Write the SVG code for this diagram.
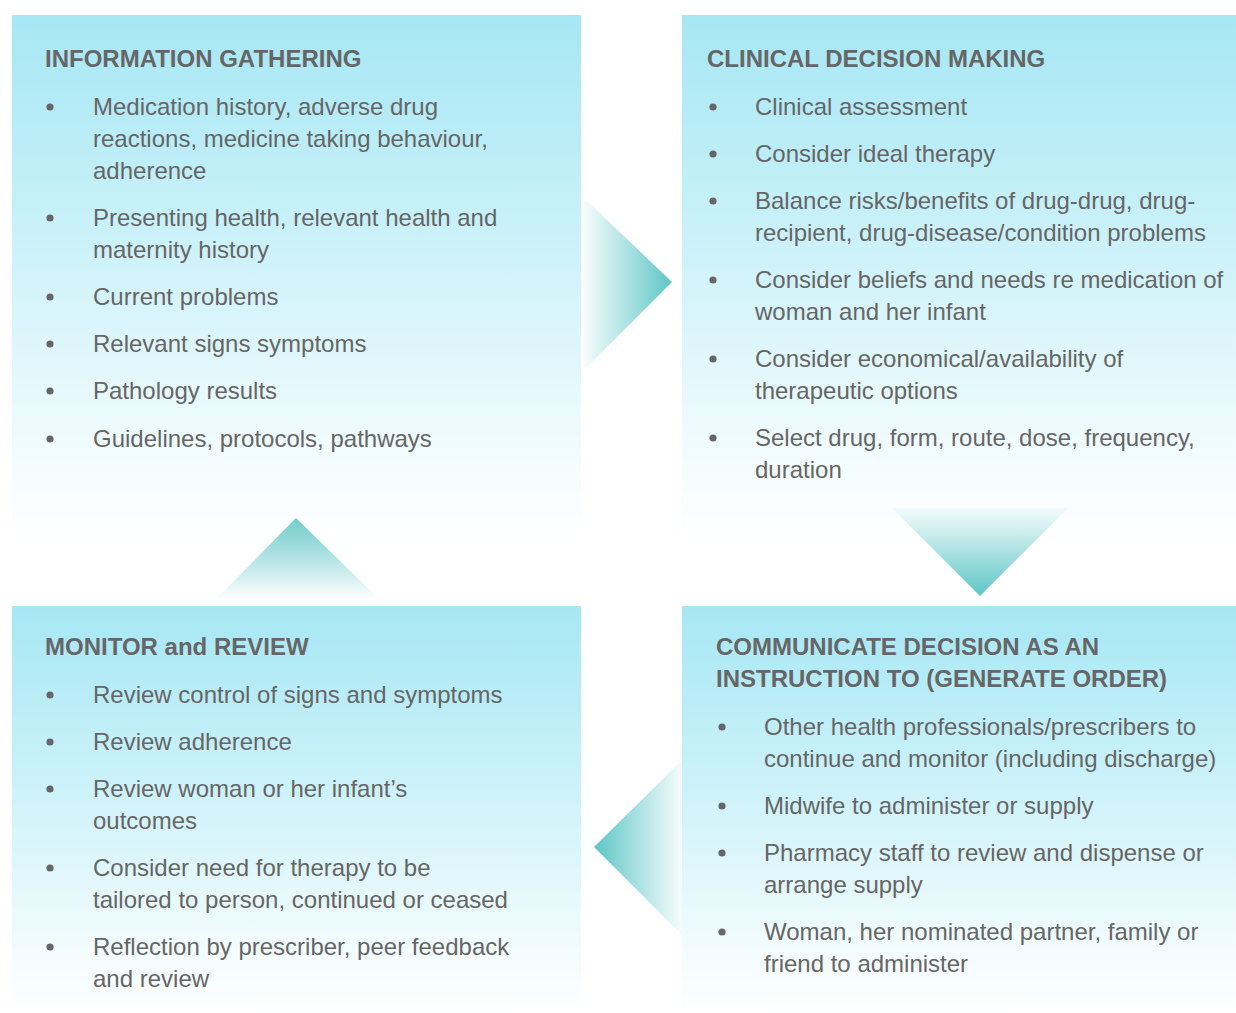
<svg xmlns="http://www.w3.org/2000/svg" width="1236" height="1013" viewBox="0 0 1236 1013">
<defs>
<linearGradient id="panel" x1="0" y1="0" x2="0" y2="1">
<stop offset="0" stop-color="#a6e7f4"/>
<stop offset="0.45" stop-color="#cdf2f9"/>
<stop offset="0.85" stop-color="#f3fcfe"/>
<stop offset="1" stop-color="#ffffff"/>
</linearGradient>
<linearGradient id="gRight" x1="0" y1="0" x2="1" y2="0">
<stop offset="0" stop-color="#5ec6c7" stop-opacity="0.05"/>
<stop offset="1" stop-color="#5ec6c7"/>
</linearGradient>
<linearGradient id="gLeft" x1="1" y1="0" x2="0" y2="0">
<stop offset="0" stop-color="#5ec6c7" stop-opacity="0.05"/>
<stop offset="1" stop-color="#5ec6c7"/>
</linearGradient>
<linearGradient id="gDown" x1="0" y1="0" x2="0" y2="1">
<stop offset="0" stop-color="#5ec6c7" stop-opacity="0.05"/>
<stop offset="1" stop-color="#5ec6c7"/>
</linearGradient>
<linearGradient id="gUp" x1="0" y1="1" x2="0" y2="0">
<stop offset="0" stop-color="#5ec6c7" stop-opacity="0.02"/>
<stop offset="1" stop-color="#74cccc"/>
</linearGradient>
</defs>
<style>
text{font-family:"Liberation Sans",Arial,Helvetica,sans-serif;fill:#666666;font-size:24px}
.h{font-weight:bold;font-size:24px}
.b{fill:#666666}
</style>
<rect width="1236" height="1013" fill="#ffffff"/>

<g id="info-gathering">
<rect x="12" y="15" width="569" height="525" fill="url(#panel)"/>
<text class="h" x="45" y="67">INFORMATION GATHERING</text>
<circle class="b" cx="50" cy="107" r="3.6"/>
<text x="93" y="115">Medication history, adverse drug</text>
<text x="93" y="147">reactions, medicine taking behaviour,</text>
<text x="93" y="179">adherence</text>
<circle class="b" cx="50" cy="218" r="3.6"/>
<text x="93" y="226">Presenting health, relevant health and</text>
<text x="93" y="258">maternity history</text>
<circle class="b" cx="50" cy="297" r="3.6"/>
<text x="93" y="305">Current problems</text>
<circle class="b" cx="50" cy="344" r="3.6"/>
<text x="93" y="352">Relevant signs symptoms</text>
<circle class="b" cx="50" cy="391" r="3.6"/>
<text x="93" y="399">Pathology results</text>
<circle class="b" cx="50" cy="439" r="3.6"/>
<text x="93" y="447">Guidelines, protocols, pathways</text>
</g>

<g id="clinical-decision">
<rect x="682" y="15" width="554" height="525" fill="url(#panel)"/>
<text class="h" x="707" y="67">CLINICAL DECISION MAKING</text>
<circle class="b" cx="713" cy="107" r="3.6"/>
<text x="755" y="115">Clinical assessment</text>
<circle class="b" cx="713" cy="154" r="3.6"/>
<text x="755" y="162">Consider ideal therapy</text>
<circle class="b" cx="713" cy="201" r="3.6"/>
<text x="755" y="209">Balance risks/benefits of drug-drug, drug-</text>
<text x="755" y="241">recipient, drug-disease/condition problems</text>
<circle class="b" cx="713" cy="280" r="3.6"/>
<text x="755" y="288">Consider beliefs and needs re medication of</text>
<text x="755" y="320">woman and her infant</text>
<circle class="b" cx="713" cy="359" r="3.6"/>
<text x="755" y="367">Consider economical/availability of</text>
<text x="755" y="399">therapeutic options</text>
<circle class="b" cx="713" cy="438" r="3.6"/>
<text x="755" y="446">Select drug, form, route, dose, frequency,</text>
<text x="755" y="478">duration</text>
</g>

<g id="monitor-review">
<rect x="12" y="606" width="569" height="407" fill="url(#panel)"/>
<text class="h" x="45" y="655">MONITOR and REVIEW</text>
<circle class="b" cx="50" cy="695" r="3.6"/>
<text x="93" y="703">Review control of signs and symptoms</text>
<circle class="b" cx="50" cy="742" r="3.6"/>
<text x="93" y="750">Review adherence</text>
<circle class="b" cx="50" cy="789" r="3.6"/>
<text x="93" y="797">Review woman or her infant’s</text>
<text x="93" y="829">outcomes</text>
<circle class="b" cx="50" cy="868" r="3.6"/>
<text x="93" y="876">Consider need for therapy to be</text>
<text x="93" y="908">tailored to person, continued or ceased</text>
<circle class="b" cx="50" cy="947" r="3.6"/>
<text x="93" y="955">Reflection by prescriber, peer feedback</text>
<text x="93" y="987">and review</text>
</g>

<g id="communicate-decision">
<rect x="682" y="606" width="554" height="407" fill="url(#panel)"/>
<text class="h" x="716" y="655">COMMUNICATE DECISION AS AN</text>
<text class="h" x="716" y="687">INSTRUCTION TO (GENERATE ORDER)</text>
<circle class="b" cx="722" cy="727" r="3.6"/>
<text x="764" y="735">Other health professionals/prescribers to</text>
<text x="764" y="767">continue and monitor (including discharge)</text>
<circle class="b" cx="722" cy="806" r="3.6"/>
<text x="764" y="814">Midwife to administer or supply</text>
<circle class="b" cx="722" cy="853" r="3.6"/>
<text x="764" y="861">Pharmacy staff to review and dispense or</text>
<text x="764" y="893">arrange supply</text>
<circle class="b" cx="722" cy="932" r="3.6"/>
<text x="764" y="940">Woman, her nominated partner, family or</text>
<text x="764" y="972">friend to administer</text>
</g>

<g id="connectors">
<polygon points="584,198 672,282 584,370" fill="url(#gRight)"/>
<polygon points="892,508 1068,508 980,596" fill="url(#gDown)"/>
<polygon points="682,760 594,847 682,935" fill="url(#gLeft)"/>
<polygon points="217,598 296,518 378,598" fill="url(#gUp)"/>
</g>
</svg>
